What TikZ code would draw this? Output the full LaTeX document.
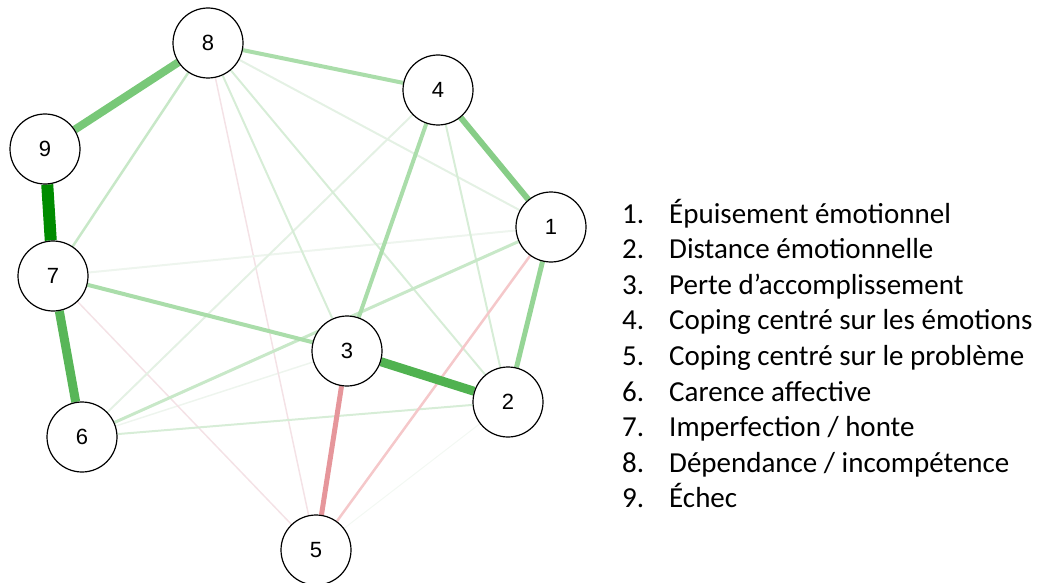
\documentclass[tikz,border=0pt]{standalone}
\usepackage{fontspec}
\setmainfont{Carlito}
\newfontfamily\arialf{Liberation Sans}
\usetikzlibrary{backgrounds}
\definecolor{gA}{RGB}{0,140,0}
\definecolor{gB}{RGB}{120,200,120}
\definecolor{gC}{RGB}{88,182,88}
\definecolor{gD}{RGB}{80,178,80}
\definecolor{gE}{RGB}{135,205,135}
\definecolor{gF}{RGB}{150,213,150}
\definecolor{gG}{RGB}{170,221,170}
\definecolor{gH}{RGB}{200,232,200}
\definecolor{gI}{RGB}{215,237,215}
\definecolor{gJ}{RGB}{228,241,228}
\definecolor{gK}{RGB}{238,245,238}
\definecolor{rA}{RGB}{230,150,155}
\definecolor{rB}{RGB}{245,200,202}
\definecolor{rC}{RGB}{244,226,230}
\tikzset{
  vnode/.style={circle, draw=black, line width=1.2pt, fill=white, minimum size=70pt, inner sep=0pt, font=\arialf\fontsize{22}{26}\selectfont},
  lab/.style={anchor=base west, inner sep=0pt, font=\fontsize{29}{33}\selectfont},
}
\begin{document}
\begin{tikzpicture}[x=1pt,y=-1pt]
\useasboundingbox (0,0) rectangle (1041,583);
\node[vnode] (n1) at (551,227) {1};
\node[vnode] (n2) at (508,402) {2};
\node[vnode] (n3) at (347,351) {3};
\node[vnode] (n4) at (438,90) {4};
\node[vnode] (n5) at (316,550) {5};
\node[vnode] (n6) at (82,437) {6};
\node[vnode] (n7) at (53,276) {7};
\node[vnode] (n8) at (208,43) {8};
\node[vnode] (n9) at (45,149) {9};
\begin{scope}[on background layer]
\draw[line width=1pt, color=gK!70!white] (n2) -- (n5);
\draw[line width=1.5pt, color=gK] (n6) -- (n3);
\draw[line width=1.5pt, color=rC] (n7) -- (n5);
\draw[line width=1.5pt, color=rC] (n8) -- (n5);
\draw[line width=2pt, color=gK] (n7) -- (n1);
\draw[line width=2pt, color=gJ] (n8) -- (n1);
\draw[line width=2pt, color=gJ] (n4) -- (n6);
\draw[line width=2pt, color=gI] (n8) -- (n3);
\draw[line width=2pt, color=gI] (n8) -- (n2);
\draw[line width=2pt, color=gI] (n4) -- (n2);
\draw[line width=2pt, color=gI] (n6) -- (n2);
\draw[line width=3pt, color=gH] (n1) -- (n6);
\draw[line width=2.5pt, color=gH] (n8) -- (n7);
\draw[line width=2.5pt, color=rB] (n1) -- (n5);
\draw[line width=5pt, color=rA] (n3) -- (n5);
\draw[line width=4pt, color=gG] (n7) -- (n3);
\draw[line width=4pt, color=gG] (n4) -- (n3);
\draw[line width=4pt, color=gG] (n8) -- (n4);
\draw[line width=5pt, color=gF] (n1) -- (n2);
\draw[line width=6pt, color=gE] (n4) -- (n1);
\draw[line width=9pt, color=gD] (n3) -- (n2);
\draw[line width=9pt, color=gC] (n7) -- (n6);
\draw[line width=8pt, color=gB] (n8) -- (n9);
\draw[line width=12pt, color=gA] (n9) -- (n7);
\end{scope}
\node[lab] (num1) at (622,223.0) {1.};
\node[lab] (num2) at (622,258.6) {2.};
\node[lab] (num3) at (622,294.2) {3.};
\node[lab] (num4) at (622,329.8) {4.};
\node[lab] (num5) at (622,365.4) {5.};
\node[lab] (num6) at (622,401.0) {6.};
\node[lab] (num7) at (622,436.6) {7.};
\node[lab] (num8) at (622,472.2) {8.};
\node[lab] (num9) at (622,507.8) {9.};
\node[lab] (txt1) at (669,223.0) {Épuisement émotionnel};
\node[lab] (txt2) at (669,258.6) {Distance émotionnelle};
\node[lab] (txt3) at (669,294.2) {Perte d’accomplissement};
\node[lab] (txt4) at (669,329.8) {Coping centré sur les émotions};
\node[lab] (txt5) at (669,365.4) {Coping centré sur le problème};
\node[lab] (txt6) at (669,401.0) {Carence affective};
\node[lab] (txt7) at (669,436.6) {Imperfection / honte};
\node[lab] (txt8) at (669,472.2) {Dépendance / incompétence};
\node[lab] (txt9) at (669,507.8) {Échec};
\end{tikzpicture}
\end{document}
